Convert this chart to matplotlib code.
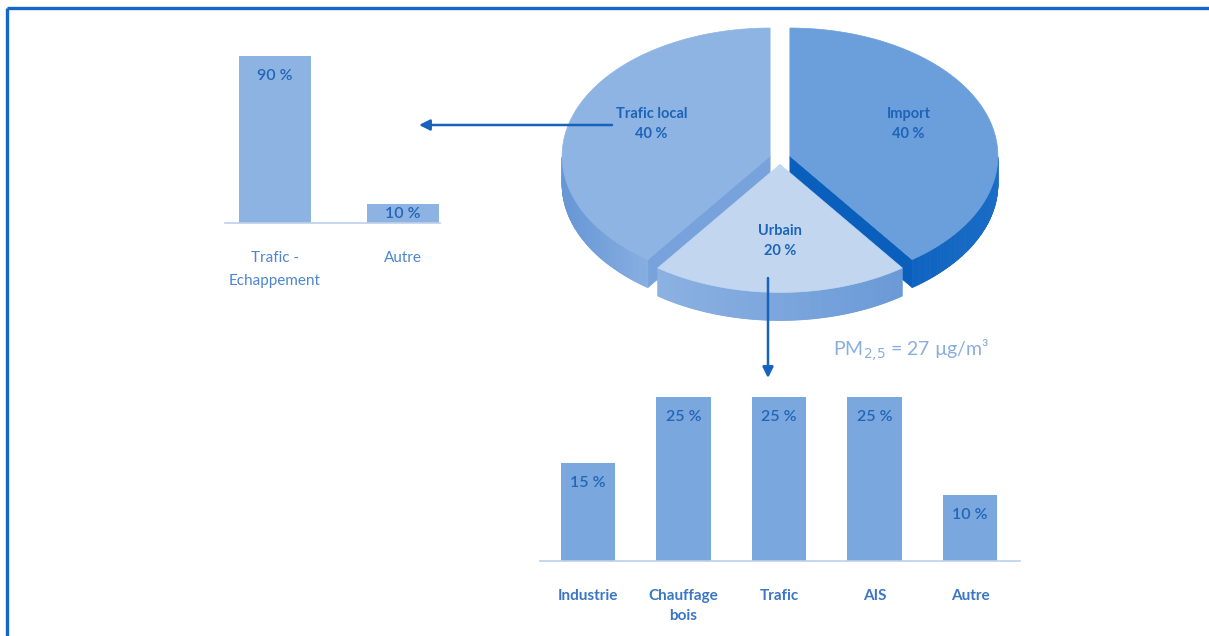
import numpy as np
import matplotlib.pyplot as plt
from matplotlib.patches import Polygon

plt.rcParams['font.family'] = ['Lato', 'DejaVu Sans']

W, H = 1209, 636

# Overall split of PM2.5 sources
pie_labels = ['Import', 'Urbain', 'Trafic local']
pie_values = [40, 20, 40]

# Detail of local traffic
local_labels = ['Trafic -\nEchappement', 'Autre']
local_values = [90, 10]

# Detail of urban background
urban_labels = ['Industrie', 'Chauffage\nbois', 'Trafic', 'AIS', 'Autre']
urban_values = [15, 25, 25, 25, 10]

pm_value = 27

fig = plt.figure(figsize=(W / 100, H / 100), dpi=100)
fig.patch.set_facecolor('white')


def px_axes(x0, y0, x1, y1):
    # axes placed with pixel box (top-left origin)
    return fig.add_axes([x0 / W, 1 - y1 / H, (x1 - x0) / W, (y1 - y0) / H])


# full-figure overlay in pixel coordinates for the pie, arrows and frame
ov = fig.add_axes([0, 0, 1, 1])
ov.set_xlim(0, W)
ov.set_ylim(H, 0)
ov.axis('off')

ov.plot([7, W], [8, 8], color='#1467c9', lw=2.4, solid_capstyle='butt')
ov.plot([7, 7], [8, H], color='#1467c9', lw=2.4, solid_capstyle='butt')

# ---- 3D pie ----
cx, cy, ra, rb, depth = 780, 158, 208, 128, 28
explode = 0.05
tops = {'Import': '#6b9fdc', 'Urbain': '#c2d6f0', 'Trafic local': '#8eb4e3'}
walls = {'Import': ('#0d63c0', '#1a6cc6'), 'Urbain': ('#8cb1e2', '#6a9ad7'),
         'Trafic local': ('#6696d5', '#86aee1')}
cuts = {'Import': '#0b5fbc', 'Urbain': '#7ba6dd', 'Trafic local': '#77a2db'}


def mix(c1, c2, t):
    a = np.array(plt.matplotlib.colors.to_rgb(c1))
    b = np.array(plt.matplotlib.colors.to_rgb(c2))
    return tuple(a + (b - a) * t)


def pt(th, r, ox, oy, z=0):
    t = np.radians(th)
    return (cx + ox + r * ra * np.cos(t), cy + oy - r * rb * np.sin(t) + z)


total = sum(pie_values)
slices = []
start = 90
for lab, v in zip(pie_labels, pie_values):
    t2 = start
    t1 = start - 360 * v / total
    start = t1
    mid = np.radians((t1 + t2) / 2)
    ox = explode * ra * np.cos(mid)
    oy = -explode * rb * np.sin(mid)
    slices.append((lab, v, t1, t2, ox, oy))

# back slices first, front slice last
slices.sort(key=lambda s: s[5])
for lab, v, t1, t2, ox, oy in slices:
    # radial cut faces
    for th, nrm in ((t1, t1 - 90), (t2, t2 + 90)):
        if np.sin(np.radians(nrm)) < -0.01:
            p0 = pt(th, 0, ox, oy)
            p1 = pt(th, 1, ox, oy)
            quad = [p0, p1, (p1[0], p1[1] + depth), (p0[0], p0[1] + depth)]
            ov.add_patch(Polygon(quad, closed=True, fc=cuts[lab], ec=cuts[lab], lw=0.5))
    # outer wall, shaded in strips
    th = np.linspace(t1, t2, 240)
    vis = th[np.sin(np.radians(th)) < 0]
    if len(vis) > 1:
        xs = [pt(a, 1, ox, oy)[0] for a in vis]
        xmin, xmax = min(xs), max(xs)
        for a, b in zip(vis[:-1], vis[1:]):
            pa, pb = pt(a, 1, ox, oy), pt(b, 1, ox, oy)
            f = ((pa[0] + pb[0]) / 2 - xmin) / max(xmax - xmin, 1)
            col = mix(walls[lab][0], walls[lab][1], f)
            quad = [pa, pb, (pb[0], pb[1] + depth), (pa[0], pa[1] + depth)]
            ov.add_patch(Polygon(quad, closed=True, fc=col, ec=col, lw=0.6))
    # top face
    arc = [pt(a, 1, ox, oy) for a in np.linspace(t1, t2, 120)]
    ov.add_patch(Polygon([pt(0, 0, ox, oy)] + arc, closed=True,
                         fc=tops[lab], ec=tops[lab], lw=0.5))
    mid = (t1 + t2) / 2
    lx, ly = pt(mid, 0.6, ox, oy)
    if np.sin(np.radians(mid)) > 0:
        ly -= 8
    ov.text(lx, ly, f'{lab}\n{v} %', ha='center', va='center', fontsize=10.5,
            fontweight='bold', color='#1d64b8', linespacing=1.55)

# arrows from the pie to the detail charts
arrow_kw = dict(arrowstyle='-|>', color='#1662bd', lw=1.8, mutation_scale=16,
                shrinkA=0, shrinkB=0)
ov.annotate('', xy=(419, 125), xytext=(612, 125), arrowprops=arrow_kw)
ov.annotate('', xy=(768, 378), xytext=(768, 278), arrowprops=arrow_kw)

ov.text(833, 350, f'PM$_{{2{{,}}5}}$ = {pm_value} µg/m³', ha='left', va='center',
        fontsize=14, color='#8aaedc')


def bar_chart(ax, labels, values, color, px_unit, tick_color, weight, pad, spacing):
    x = np.arange(len(values))
    ax.bar(x, values, width=0.57, color=color, zorder=2)
    off = 20 / px_unit
    for xi, v in zip(x, values):
        ax.text(xi, max(v - off, v / 2), f'{v} %', ha='center', va='center',
                fontsize=11.5, color='#2366b8', fontweight='semibold', zorder=3)
    ax.set_xticks(x)
    ax.set_xticklabels(labels, fontsize=11, color=tick_color, fontweight=weight,
                       linespacing=spacing)
    ax.tick_params(axis='x', length=0, pad=pad)
    ax.set_yticks([])
    for s in ('top', 'left', 'right'):
        ax.spines[s].set_visible(False)
    ax.spines['bottom'].set_color('#bcd0ea')
    ax.spines['bottom'].set_linewidth(1.2)
    ax.patch.set_visible(False)


# local traffic detail (top left)
ax1 = px_axes(225, 56, 440, 223)
ax1.set_xlim((225 - 275) / 128, (440 - 275) / 128)
ax1.set_ylim(0, 90)
bar_chart(ax1, local_labels, local_values, '#8db3e2', 167 / 90, '#4d86cc',
          'normal', 20, 1.85)

# urban detail (bottom right)
ax2 = px_axes(540, 397, 1020, 561)
ax2.set_xlim((540 - 588) / 95.5, (1020 - 588) / 95.5)
ax2.set_ylim(0, 25)
bar_chart(ax2, urban_labels, urban_values, '#7aa7de', 164 / 25, '#3a76c4',
          'bold', 20, 1.6)

fig.savefig('out.png', dpi=100, facecolor='white')
